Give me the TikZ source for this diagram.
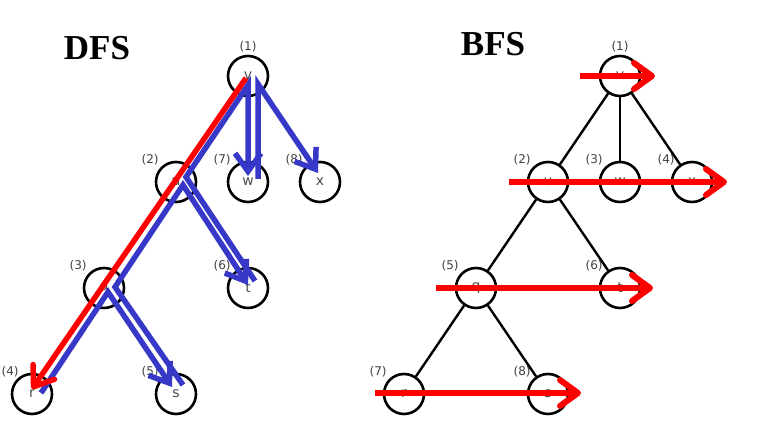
\documentclass[tikz,border=0pt]{standalone}
\usepackage{fontspec}
\newfontfamily\titlefont{Liberation Serif}
\newfontfamily\graphfont{DejaVu Sans}
\usepackage{tikz}
\usetikzlibrary{arrows.meta, positioning, calc}
\definecolor{dfsblue}{RGB}{56,56,200}
\definecolor{bfsred}{RGB}{255,0,0}
\tikzset{
	vtx/.style={circle, draw, line width=2.6pt, minimum size=40pt, inner sep=0pt,
		font=\graphfont\fontsize{14}{14}\selectfont, text=black!70},
	lbl/.style={font=\graphfont\fontsize{12}{12}\selectfont, text=black!75, inner sep=1pt},
	treeline/.style={line width=2.4pt},
	heading/.style={font=\titlefont\bfseries\fontsize{35}{35}\selectfont},
	backtrack/.style={draw=dfsblue, line width=5.5pt, -{Straight Barb[length=18pt, width=26pt]}},
	descent/.style={draw=bfsred, line width=5.5pt, -{Straight Barb[length=18pt, width=26pt, round]}},
	sweep/.style={draw=bfsred, line width=6pt, -{Straight Barb[length=18pt, width=26pt, round]}},
}
\begin{document}
\begin{tikzpicture}[x=1pt, y=1pt, on grid, node distance=106pt and 72pt, label distance=1.5pt]
			\useasboundingbox (0,0) rectangle (763,443);
			\node[heading] (dfstitle) at (97,395) {DFS};
			\node[heading] (bfstitle) at (493,399) {BFS};
			
			% DFS tree
			\node[vtx, label={[lbl]90:(1)}] (dv) at (248,367) {v};
			\node[vtx, below left=of dv, label={[lbl]135:(2)}] (du) {u};
			\node[vtx, below=of dv, label={[lbl]135:(7)}] (dw) {w};
			\node[vtx, below right=of dv, label={[lbl]135:(8)}] (dx) {x};
			\node[vtx, below left=of du, label={[lbl]135:(3)}] (dq) {q};
			\node[vtx, below right=of du, label={[lbl]135:(6)}] (dt) {t};
			\node[vtx, below left=of dq, label={[lbl, xshift=4pt]135:(4)}] (dr) {r};
			\node[vtx, below right=of dq, label={[lbl]135:(5)}] (ds) {s};
			
			\draw[backtrack] ($(dr)+(9,1)$) -- ($(dq)+(4,-4)$) -- ($(ds)+(-4,7)$);
			\draw[backtrack] ($(ds)+(7,9)$) -- ($(dq)+(11,1)$) -- ($(du)+(7,-3)$) -- ($(dt)+(0,3)$);
			\draw[backtrack] ($(dt)+(7,7)$) -- ($(du)+(10,5)$) -- ($(dv)+(0,-9)$) -- ($(dw)+(0,6)$);
			\draw[backtrack] ($(dw)+(10,3)$) -- ($(dv)+(10,-8)$) -- ($(dx)+(-2,9)$);
			\draw[descent] ($(dv)+(-2,-2)$) -- ($(dr)+(0,5)$);
			
			% BFS tree
			\node[vtx, label={[lbl]90:(1)}] (bv) at (620,367) {v};
			\node[vtx, below left=of bv, label={[lbl]135:(2)}] (bu) {u};
			\node[vtx, below=of bv, label={[lbl]135:(3)}] (bw) {w};
			\node[vtx, below right=of bv, label={[lbl]135:(4)}] (bx) {x};
			\node[vtx, below left=of bu, label={[lbl]135:(5)}] (bq) {q};
			\node[vtx, below right=of bu, label={[lbl]135:(6)}] (bt) {t};
			\node[vtx, below left=of bq, label={[lbl]135:(7)}] (br) {r};
			\node[vtx, below right=of bq, label={[lbl]135:(8)}] (bs) {s};
			
			\draw[treeline] (bv) -- (bu);
			\draw[treeline] (bv) -- (bw);
			\draw[treeline] (bv) -- (bx);
			\draw[treeline] (bu) -- (bq);
			\draw[treeline] (bu) -- (bt);
			\draw[treeline] (bq) -- (br);
			\draw[treeline] (bq) -- (bs);
			
			\draw[sweep] ($(bv)+(-40,0)$) -- ($(bv)+(35,0)$);
			\draw[sweep] ($(bu)+(-39,0)$) -- ($(bx)+(35,0)$);
			\draw[sweep] ($(bq)+(-40,0)$) -- ($(bt)+(33,0)$);
			\draw[sweep] ($(br)+(-29,1)$) -- ($(bs)+(33,1)$);
		\end{tikzpicture}
\end{document}
